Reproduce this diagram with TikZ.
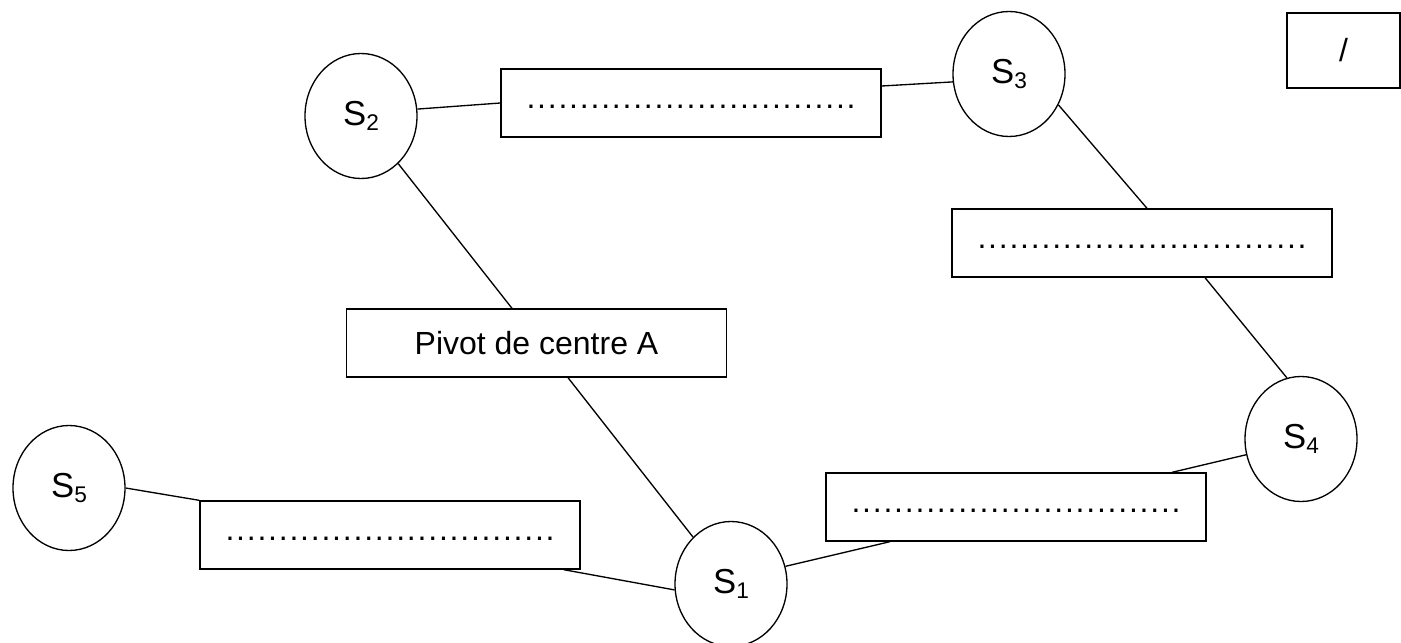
\documentclass[tikz,border=0pt]{standalone}
\usepackage{fontspec}
\setmainfont{Liberation Sans}
\usetikzlibrary{shapes.geometric,calc}
\newcommand\Ssub[1]{S\raisebox{-4pt}{\fontsize{17}{17}\selectfont #1}}
\newcommand\dotrow{\rule{0pt}{8pt}\foreach \i in {1,...,31}{\makebox[8pt]{.}}}
\begin{document}
\begin{tikzpicture}[x=0.75pt,y=-0.75pt,line width=1pt,
  sys/.style={ellipse,draw,minimum width=84pt,minimum height=93.75pt,inner sep=0pt,font=\fontsize{26}{30}\selectfont},
  lnk/.style={rectangle,draw,minimum width=285pt,minimum height=51pt,inner sep=0pt,font=\fontsize{24}{28}\selectfont},
  wire/.style={draw,line width=1pt}]
\useasboundingbox (0,0) rectangle (1401,642);
% solids
\node[sys] (S1) at (731,584) {\Ssub{1}};
\node[sys] (S2) at (361,116) {\Ssub{2}};
\node[sys] (S3) at (1009,74) {\Ssub{3}};
\node[sys] (S4) at (1301,439) {\Ssub{4}};
\node[sys] (S5) at (69,488) {\Ssub{5}};
% links
\node[lnk] (b23) at (691,103) {\dotrow};
\node[lnk] (b34) at (1142,243) {\dotrow};
\node[lnk] (piv) at (536.5,343) {Pivot de centre A};
\node[lnk] (b41) at (1016,507) {\dotrow};
\node[lnk] (b51) at (390,535) {\dotrow};
\node[rectangle,draw,minimum width=84.75pt,minimum height=56.25pt,inner sep=0pt,font=\fontsize{24}{28}\selectfont] (slash) at (1343.5,50.5) {/};
% connectors
\path[wire] (S2.7) -- (b23.west);
\path[wire] ($(b23.east)+(0,-17)$) -- (S3.188);
\path[wire] (S3.-32) -- ($(b34.north)+(5,0)$);
\path[wire] ($(b34.south)+(63,0)$) -- (S4.103);
\path[wire] (S4.196) -- ($(b41.north)+(156,0)$);
\path[wire] ($(b41.south)+(-126,0)$) -- (S1.18);
\path[wire] (S2.-52) -- ($(piv.north)+(-24.5,0)$);
\path[wire] ($(piv.south)+(31.5,0)$) -- (S1.129);
\path[wire] (S5.east) -- (b51.north west);
\path[wire] ($(b51.south east)+(-17,0)$) -- (S1.186);
\end{tikzpicture}
\end{document}
